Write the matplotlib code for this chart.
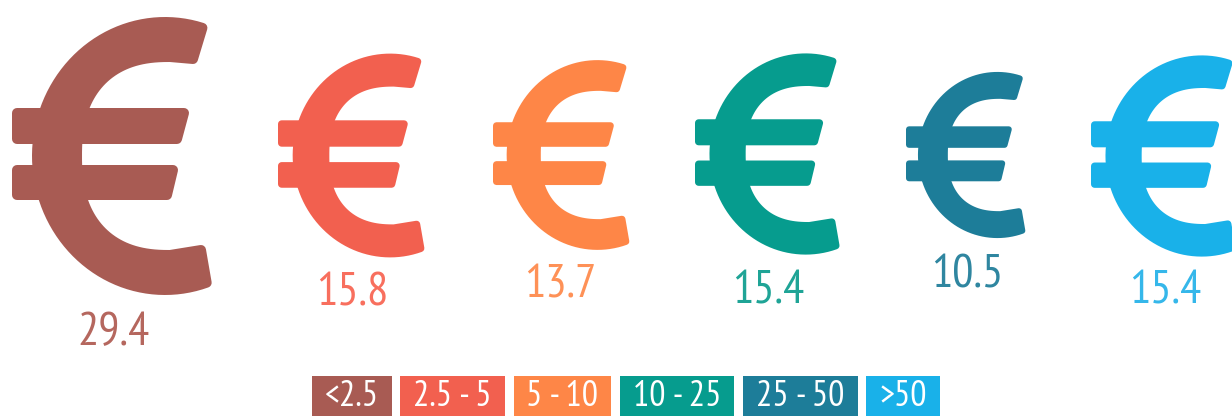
import numpy as np
import matplotlib
matplotlib.use("Agg")
import matplotlib.pyplot as plt
from matplotlib.patches import Polygon, Rectangle

plt.rcParams["font.family"] = ["PT Sans Narrow", "Roboto", "DejaVu Sans"]

# share per income class
classes = ["<2.5", "2.5 - 5", "5 - 10", "10 - 25", "25 - 50", ">50"]
values = [29.4, 15.8, 13.7, 15.4, 10.5, 15.4]
value_labels = ["29.4", "15.8", "13.7", "15.4", "10.5", "15.4"]

colors = ["#A85B53", "#F2604F", "#FE8647", "#069C8E", "#1D7D99", "#19B1E9"]
text_colors = ["#B5675E", "#F86F5E", "#FE9157", "#1FA496", "#2F86A0", "#35B7EA"]

# layout, in pixels of the picture
glyph_left = [12, 278, 493, 695, 906, 1091]
glyph_cy = [156, 155.5, 155, 154, 155, 156]
label_x = [114, 352, 560, 768, 967, 1165]
label_y = [333, 293, 285, 291, 275, 292]
legend_x = [312, 400, 514, 620, 743, 866]
legend_w = [80, 105, 97, 114, 115, 74]

RADIUS = 5  # corner rounding at full size


def euro_parts():
    """Glyph outline at full size, relative to its left edge and vertical centre."""
    r = RADIUS
    t_out = np.radians(np.linspace(73, 289, 80))
    xo = 153 + (133 - r) * np.cos(t_out)
    yo = -(139 - r) * np.sin(t_out)
    # inner edge is squarer than an ellipse, so use a superellipse for the left half
    t_in = np.radians(np.linspace(90, -90, 80))
    power = 2 / 2.4
    xi = 158 - (88 + r) * np.abs(np.cos(t_in)) ** power
    yi = (94 + r) * np.sign(np.sin(t_in)) * np.abs(np.sin(t_in)) ** power
    xs = np.r_[xo, 189, xi, 181]
    ys = np.r_[yo, 94, yi, -97]
    ring = np.column_stack([xs, ys])
    bar1 = np.array([[r, -48 + r], [177 - r, -48 + r], [170 - r, -12 - r], [r, -12 - r]])
    bar2 = np.array([[r, 9 + r], [166 - r, 9 + r], [160 - r, 44 - r], [r, 44 - r]])
    return [ring, bar1, bar2]


def draw_euro(ax, left, cy, value, color):
    scale = np.sqrt(value / max(values))
    for part in euro_parts():
        pts = part * scale + [left, cy]
        ax.add_patch(Polygon(pts, closed=True, facecolor=color, edgecolor=color,
                             linewidth=2 * RADIUS * scale * 0.72, joinstyle="round"))


def main():
    fig = plt.figure(figsize=(12.32, 4.16), dpi=100)
    ax = fig.add_axes([0, 0, 1, 1])
    ax.set_xlim(0, 1232)
    ax.set_ylim(416, 0)
    ax.axis("off")

    for i, value in enumerate(values):
        draw_euro(ax, glyph_left[i], glyph_cy[i], value, colors[i])
        ax.text(label_x[i], label_y[i], value_labels[i], color=text_colors[i],
                fontsize=34, ha="center", va="center")

    for i, name in enumerate(classes):
        ax.add_patch(Rectangle((legend_x[i], 376), legend_w[i], 40, facecolor=colors[i],
                               edgecolor="none"))
        ax.text(legend_x[i] + legend_w[i] / 2, 397, name, color="white",
                fontsize=26, ha="center", va="center")

    fig.savefig("out.png", dpi=100)


if __name__ == "__main__":
    main()
